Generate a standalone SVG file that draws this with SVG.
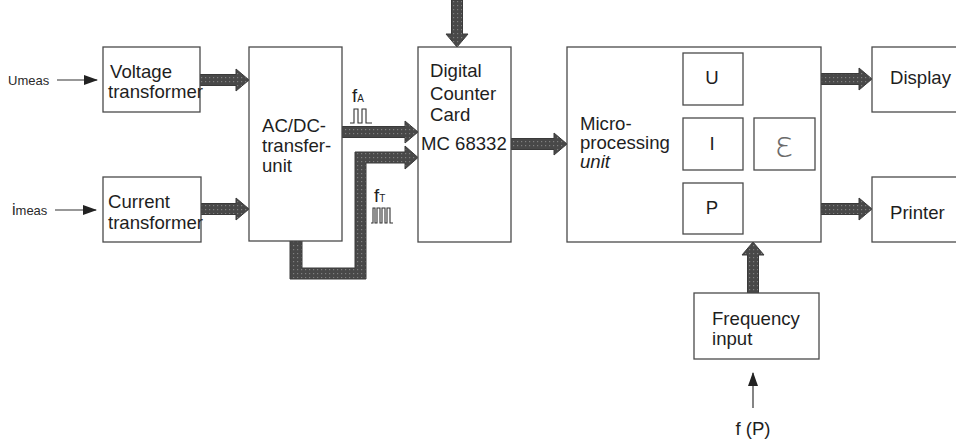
<svg xmlns="http://www.w3.org/2000/svg" width="956" height="439" viewBox="0 0 956 439">
<style>
  .box { fill: #ffffff; stroke: #4a4a4a; stroke-width: 1.3; }
  .t { font-family: "Liberation Sans", Arial, sans-serif; font-size: 18.6px; fill: #1e1e1e; }
  .s { font-family: "Liberation Sans", Arial, sans-serif; font-size: 13px; fill: #2a2a2a; }
  .fat { fill: url(#dots); stroke: #3a3a3a; stroke-width: 1; }
  .thin { stroke: #333; stroke-width: 1.2; fill: none; }
  .pulse { stroke: #333; stroke-width: 1.1; fill: none; }
</style>
<defs>
  <pattern id="dots" width="4" height="4" patternUnits="userSpaceOnUse">
    <rect width="4" height="4" fill="#484848"/>
    <rect x="1" y="1" width="1.2" height="1.2" fill="#808080"/>
  </pattern>
  <marker id="ah" viewBox="0 0 14 10" refX="13" refY="5" markerWidth="14" markerHeight="10" markerUnits="userSpaceOnUse" orient="auto">
    <path d="M0,0 L14,5 L0,10 Z" fill="#222"/>
  </marker>
</defs>
<rect width="956" height="439" fill="#ffffff"/>

<g id="connectors">
  <line class="thin" x1="57" y1="80" x2="97" y2="80" marker-end="url(#ah)"/>
  <line class="thin" x1="55" y1="210" x2="96" y2="210" marker-end="url(#ah)"/>
  <line class="thin" x1="753" y1="408" x2="753" y2="373" marker-end="url(#ah)"/>
  <path class="fat" d="M200,74.5 H236 V69 L249,80 L236,91 V85.5 H200 Z"/>
  <path class="fat" d="M201,203.5 H236 V198 L249,209 L236,220 V214.5 H201 Z"/>
  <path class="fat" d="M342,126.5 H405 V121 L418,132 L405,143 V137.5 H342 Z"/>
  <path class="fat" d="M290,241 V279 H366 V163 H405 V169 L418,157.5 L405,146 V152 H355 V268 H302 V241 Z"/>
  <path class="fat" d="M511,138.5 H554 V133 L567,144 L554,155 V149.5 H511 Z"/>
  <path class="fat" d="M821,73.5 H859 V68 L872,79 L859,90 V84.5 H821 Z"/>
  <path class="fat" d="M821,203.5 H859 V198 L872,209 L859,220 V214.5 H821 Z"/>
  <path class="fat" d="M451.5,0 V34 H446 L457,47 L468,34 H462.5 V0 Z"/>
  <path class="fat" d="M747.5,293 V255 H742 L753,242 L764,255 H758.5 V293 Z"/>
</g>

<g id="umeas">
  <text class="s" x="8" y="84.5">Umeas</text>
</g>
<g id="imeas">
  <text class="s" x="12" y="214.5"><tspan font-size="16">i</tspan>meas</text>
</g>

<g id="voltage-transformer">
  <rect class="box" x="103" y="47" width="97" height="65"/>
  <text class="t" x="110" y="78">Voltage</text>
  <text class="t" x="108" y="98">transformer</text>
</g>

<g id="current-transformer">
  <rect class="box" x="103" y="177" width="98" height="65"/>
  <text class="t" x="108" y="208">Current</text>
  <text class="t" x="108" y="229">transformer</text>
</g>

<g id="acdc">
  <rect class="box" x="249" y="47" width="93" height="194"/>
  <text class="t" x="262" y="132">AC/DC-</text>
  <text class="t" x="262" y="152">transfer-</text>
  <text class="t" x="262" y="172">unit</text>
</g>

<g id="fa-label">
  <text class="t" x="352" y="102" font-size="16">f<tspan font-size="10">A</tspan></text>
  <path class="pulse" d="M350,123 H354 V109 H358 V123 H362 V109 H366 V123 H372"/>
</g>

<g id="ft-label">
  <text class="t" x="374" y="202" font-size="16">f<tspan font-size="10">T</tspan></text>
  <path class="pulse" d="M371,223 H373 V208 H375 V223 H377 V208 H380 V223 H382 V208 H385 V223 H387 V208 H390 V223 H393"/>
</g>

<g id="digital-counter-card">
  <rect class="box" x="418" y="47" width="93" height="195"/>
  <text class="t" x="430" y="77">Digital</text>
  <text class="t" x="430" y="100">Counter</text>
  <text class="t" x="430" y="121">Card</text>
  <text class="t" x="421" y="150">MC 68332</text>
</g>

<g id="microprocessing-unit">
  <rect class="box" x="567" y="47" width="254" height="195"/>
  <text class="t" x="580" y="130">Micro-</text>
  <text class="t" x="580" y="149">processing</text>
  <text class="t" x="580" y="168" font-style="italic">unit</text>
</g>

<g id="u-box">
  <rect class="box" x="683" y="53" width="60" height="52"/>
  <text class="t" x="712" y="84" text-anchor="middle">U</text>
</g>
<g id="i-box">
  <rect class="box" x="683" y="118" width="60" height="52"/>
  <text class="t" x="712" y="150" text-anchor="middle">I</text>
</g>
<g id="p-box">
  <rect class="box" x="683" y="183" width="60" height="51"/>
  <text class="t" x="712" y="214" text-anchor="middle">P</text>
</g>
<g id="epsilon-box">
  <rect class="box" x="754" y="118" width="61" height="52"/>
  <text x="784" y="157" text-anchor="middle" font-family="'DejaVu Sans', sans-serif" font-size="36" font-weight="200" fill="#6a6a6a">ε</text>
</g>

<g id="display">
  <rect class="box" x="872" y="47" width="100" height="65"/>
  <text class="t" x="890" y="84">Display</text>
</g>

<g id="printer">
  <rect class="box" x="872" y="177" width="100" height="65"/>
  <text class="t" x="890" y="219">Printer</text>
</g>

<g id="frequency-input">
  <rect class="box" x="694" y="293" width="125" height="66"/>
  <text class="t" x="712" y="325">Frequency</text>
  <text class="t" x="712" y="345">input</text>
</g>

<g id="fp-label">
  <text class="t" x="753" y="435" font-size="16" text-anchor="middle">f (P)</text>
</g>
</svg>
